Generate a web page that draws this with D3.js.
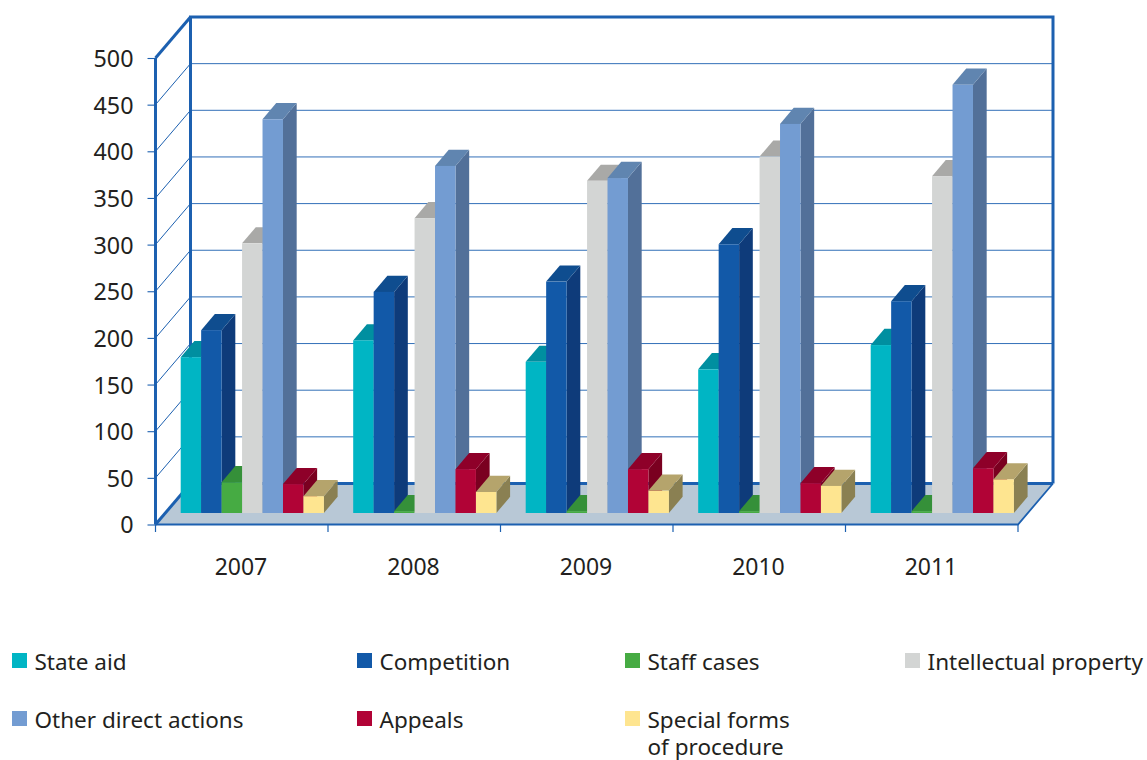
<!DOCTYPE html>
<html><head><meta charset="utf-8">
<script src="https://cdnjs.cloudflare.com/ajax/libs/d3/7.8.5/d3.min.js"></script>
<style>html,body{margin:0;padding:0;background:#fff}svg{display:block}text{font-family:"Noto Sans",sans-serif;fill:#231f20}</style>
</head><body><svg id="c" width="1147" height="760"></svg>
<script>
const years = ["2007","2008","2009","2010","2011"];
const seriesNames = ["State aid","Competition","Staff cases","Intellectual property","Other direct actions","Appeals","Special forms of procedure"];
const stateAid = [167,185,162,154,180];
const competition = [196,237,248,288,227];
const staffCases = [33,2,2,2,2];
const intellectualProperty = [289,316,356,382,361];
const otherDirect = [422,372,359,417,459];
const appeals = [31,47,47,32,48];
const specialForms = [18,22.5,24,29,36];
const yTicks = [0,50,100,150,200,250,300,350,400,450,500];
const frontColors = ["#00b5c4","#1259a8","#46ab43","#d3d5d4","#739cd2","#b10336","#fee590"];
const topColors   = ["#008fa0","#0f4d8f","#359039","#a9a9a7","#6085b0","#8e0029","#b5a46c"];
const sideColors  = ["#007d8c","#0e3b7a","#2c7a30","#8f8f8d","#527099","#7a0020","#8a8052"];

const allValues = [stateAid,competition,staffCases,intellectualProperty,otherDirect,appeals,specialForms];
const svg = d3.select("#c");
const L=155.5, R=1018, Y0=524.5, Y500=58;
const wallDx=35, wallDy=-41;
const barDx=13.7, barDy=-16.2;
const BLUE="#1c60b0";

const y = d3.scaleLinear().domain([0,500]).range([Y0,Y500]);
const x = d3.scaleBand().domain(years).range([L,R]);
const inner = d3.scaleBand().domain(seriesNames).range([25.2,168.4]);
const barBase = 513;
const h = v => Y0 - y(v);

const pts = a => a.map(p=>p.join(",")).join(" ");
// floor
svg.append("polygon").attr("points",pts([[L,Y0],[R,Y0],[R+wallDx,Y0+wallDy],[L+wallDx,Y0+wallDy]])).attr("fill","#b8c8d6");
// back gridlines and side diagonals
const nz = yTicks.filter(t=>t>0);
svg.selectAll("line.g").data(nz.filter(t=>t<500)).join("line").attr("class","g")
  .attr("x1",L+wallDx).attr("x2",R+wallDx).attr("y1",t=>y(t)+wallDy).attr("y2",t=>y(t)+wallDy)
  .attr("stroke",BLUE).attr("stroke-width",1).attr("stroke-opacity",0.9);
svg.selectAll("line.d").data(nz.filter(t=>t<500)).join("line").attr("class","d")
  .attr("x1",L).attr("x2",L+wallDx).attr("y1",t=>y(t)).attr("y2",t=>y(t)+wallDy)
  .attr("stroke",BLUE).attr("stroke-width",1);
// wall frame
const frame = (a,w)=>svg.append("polyline").attr("points",pts(a)).attr("fill","none").attr("stroke",BLUE).attr("stroke-width",w).attr("stroke-linejoin","miter");
frame([[L+wallDx,Y0+wallDy],[L+wallDx,Y500+wallDy],[R+wallDx,Y500+wallDy],[R+wallDx,Y0+wallDy]],3);
frame([[L+wallDx,Y0+wallDy],[R+wallDx,Y0+wallDy]],3);
frame([[L,Y0],[L,Y500]],3);
frame([[L,Y500],[L+wallDx,Y500+wallDy]],3);
frame([[L,Y0],[L+wallDx,Y0+wallDy]],3);
frame([[L,Y0],[R,Y0],[R+wallDx,Y0+wallDy]],1.8);
// left axis
const axisLeft = d3.axisLeft(y).tickValues(yTicks).tickSize(8).tickPadding(14).tickFormat(d3.format("d"));
const gl = svg.append("g").attr("transform",`translate(${L},0)`).call(axisLeft);
gl.select(".domain").remove();
gl.selectAll("line").attr("stroke",BLUE).attr("stroke-width",1.1);
gl.selectAll("text").attr("font-size",23.3).attr("y",1).style("font-family",'"Noto Sans",sans-serif').attr("fill","#231f20");
// bottom axis
const tickX=[...years.map(d=>x(d)),R];
svg.selectAll("line.t").data(tickX).join("line").attr("class","t")
  .attr("x1",d=>d).attr("x2",d=>d).attr("y1",Y0).attr("y2",532).attr("stroke",BLUE).attr("stroke-width",1.2);
svg.selectAll("text.yr").data(years).join("text").attr("class","yr")
  .attr("x",d=>x(d)+x.bandwidth()/2-0.8).attr("y",575).attr("text-anchor","middle").attr("font-size",23).text(d=>d);
// bars
seriesNames.forEach((name,si)=>{
  const g=svg.append("g");
  years.forEach((yr,yi)=>{
    const v=allValues[si][yi];
    const x0=x(yr)+inner(name), w=inner.bandwidth();
    const top=barBase-h(v);
    g.append("polygon").attr("points",pts([[x0+w,barBase],[x0+w+barDx,barBase+barDy],[x0+w+barDx,top+barDy],[x0+w,top]])).attr("fill",sideColors[si]);
    g.append("polygon").attr("points",pts([[x0,top],[x0+barDx,top+barDy],[x0+w+barDx,top+barDy],[x0+w,top]])).attr("fill",topColors[si]);
    g.append("rect").attr("x",x0).attr("y",top).attr("width",w).attr("height",barBase-top).attr("fill",frontColors[si]);
  });
});
// legend
const legendX=[12,357,625,905,12,357,625];
const legendY=[653,653,653,653,711,711,711];
const legendLines=[["State aid"],["Competition"],["Staff cases"],["Intellectual property"],["Other direct actions"],["Appeals"],["Special forms","of procedure"]];
const lg=svg.selectAll("g.l").data(seriesNames).join("g").attr("class","l").attr("transform",(d,i)=>`translate(${legendX[i]},${legendY[i]})`);
lg.append("rect").attr("width",15).attr("height",15).attr("fill",(d,i)=>frontColors[i]);
lg.each(function(d,i){
  d3.select(this).selectAll("text").data(legendLines[i]).join("text")
    .attr("x",22.5).attr("y",(t,k)=>16.5+k*27).attr("font-size",22.5).text(t=>t);
});
</script></body></html>
